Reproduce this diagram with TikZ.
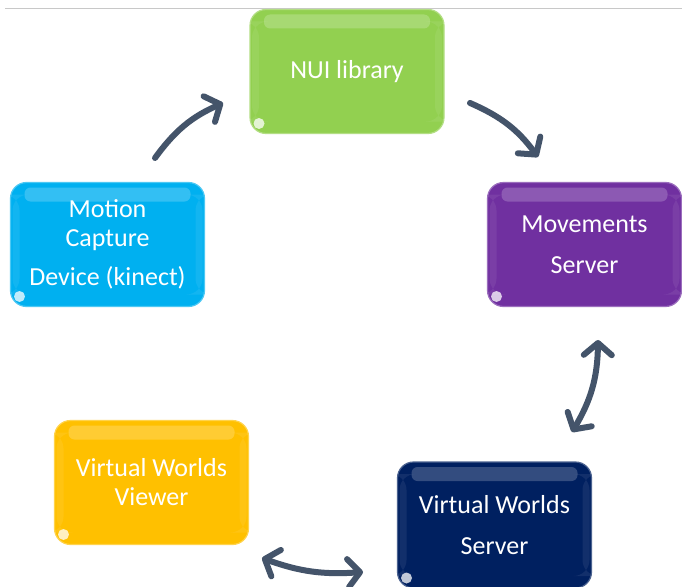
\documentclass[tikz,border=0pt]{standalone}
\usepackage{fontspec}
\setmainfont{Carlito}
\usetikzlibrary{arrows.meta}
\definecolor{cgreen}{HTML}{92D050}
\definecolor{ccyan}{HTML}{00B0F0}
\definecolor{cpurple}{HTML}{7030A0}
\definecolor{cnavy}{HTML}{002060}
\definecolor{cgold}{HTML}{FFC000}
\definecolor{arrowc}{HTML}{44546A}
\definecolor{topline}{HTML}{C8C8C8}
\begin{document}
\begin{tikzpicture}[x=1pt,y=1pt,
  box/.style={rounded corners=16pt, minimum width=194pt, minimum height=124pt,
    inner sep=0pt, text=white, align=center, font=\fontsize{26}{29}\selectfont,
    fill=#1, draw=#1!70!white, line width=1.2pt,
    path picture={
      \fill[white,opacity=.2,rounded corners=6pt]
        ([xshift=14pt,yshift=-5pt]path picture bounding box.north west) rectangle
        ([xshift=-14pt,yshift=-19pt]path picture bounding box.north east);
      \fill[white,opacity=.07]
        ([xshift=2pt,yshift=-12pt]path picture bounding box.north west) rectangle
        ([xshift=9pt,yshift=12pt]path picture bounding box.south west);
      \fill[white,opacity=.07]
        ([xshift=-9pt,yshift=-12pt]path picture bounding box.north east) rectangle
        ([xshift=-2pt,yshift=12pt]path picture bounding box.south east);
      \fill[white,opacity=.75]
        ([xshift=9pt,yshift=10pt]path picture bounding box.south west) circle (5.5pt);
    }},
  flow/.style={line width=6pt, draw=arrowc, line cap=round,
    -{Straight Barb[length=12pt,width=28pt,line width=6pt,line join=round,line cap=round]}},
  twoway/.style={line width=6pt, draw=arrowc, line cap=round,
    {Straight Barb[length=12pt,width=28pt,line width=6pt,line join=round,line cap=round]}-{Straight Barb[length=12pt,width=28pt,line width=6pt,line join=round,line cap=round]}}
]
\useasboundingbox (0,0) rectangle (682,-586);
\fill[white] (0,0) rectangle (682,-586);
\draw[topline, line width=1pt] (5,-9) -- (682,-9);

\node[box=cgreen] (nui) at (347,-71.5) {NUI library};
\node[box=ccyan] (mcd) at (107.5,-244.5) {Motion\\Capture\\[10pt]Device (kinect)};
\node[box=cpurple] (mov) at (584.5,-244.5) {Movements\\[12pt]Server};
\node[box=cnavy, minimum height=126pt] (vws) at (494.5,-525) {Virtual Worlds\\[12pt]Server};
\node[box=cgold] (vwv) at (151.5,-482.5) {Virtual Worlds\\Viewer};

\coordinate (a1s) at (155,-158);
\coordinate (a1e) at (223,-103);
\coordinate (a2s) at (470,-103);
\coordinate (a2e) at (538,-157);
\coordinate (a3s) at (572,-432);
\coordinate (a3e) at (598,-340);
\coordinate (a4s) at (262,-558);
\coordinate (a4e) at (363,-572);

\draw[flow] (a1s) to[bend left=15] (a1e);
\draw[flow] (a2s) to[bend left=15] (a2e);
\draw[twoway] (a3s) to[bend right=15] (a3e);
\draw[twoway] (a4s) to[bend right=12] (a4e);
\end{tikzpicture}
\end{document}
